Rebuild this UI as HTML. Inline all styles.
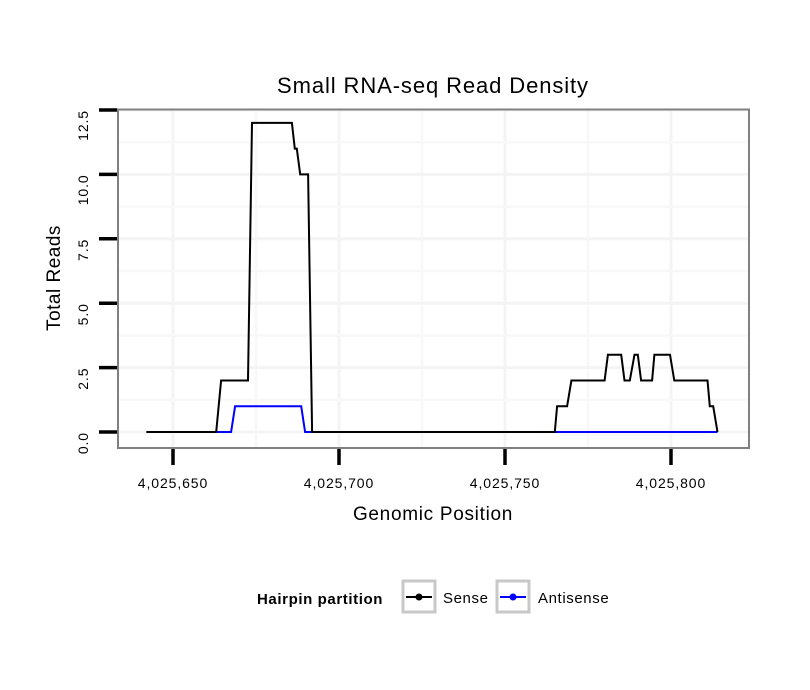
<!DOCTYPE html>
<html><head><meta charset="utf-8"><style>body{margin:0;background:#fff}svg{display:block;font-family:"Liberation Sans",sans-serif}</style></head>
<body>
<svg id="chart" width="810" height="690" viewBox="0 0 810 690">
<rect x="0" y="0" width="810" height="690" fill="#fff"/>
<text x="433" y="93" text-anchor="middle" font-size="22" letter-spacing="0.9">Small RNA-seq Read Density</text>
<g id="grid"></g>
<g id="series"></g>
<rect x="118" y="109.5" width="631" height="338.5" fill="none" stroke="#808080" stroke-width="2"/>
<g id="axes"></g>
<text x="433" y="520" text-anchor="middle" font-size="19" letter-spacing="0.7">Genomic Position</text>
<text transform="translate(60,278) rotate(-90)" text-anchor="middle" font-size="19" letter-spacing="0.5">Total Reads</text>
<g>
<text x="257" y="604" font-size="15" font-weight="bold" letter-spacing="0.6">Hairpin partition</text>
<g>
<rect x="403" y="581" width="32" height="31" fill="#fff" stroke="#c8c8c8" stroke-width="3"/>
<line x1="406" y1="597" x2="432" y2="597" stroke="#000" stroke-width="2"/><circle cx="419" cy="597" r="3.5" fill="#000"/>
<text x="443" y="603" font-size="15" letter-spacing="0.6">Sense</text></g>
<g>
<rect x="497" y="581" width="32" height="31" fill="#fff" stroke="#c8c8c8" stroke-width="3"/>
<line x1="500" y1="597" x2="526" y2="597" stroke="#00f" stroke-width="2"/><circle cx="513" cy="597" r="3.5" fill="#00f"/>
<text x="538" y="603" font-size="15" letter-spacing="0.6">Antisense</text></g>
</g>
</svg>
<script>
const xTicks=[4025650,4025700,4025750,4025800];
const xTickLabels=["4,025,650","4,025,700","4,025,750","4,025,800"];
const yTicks=[0,2.5,5,7.5,10,12.5];
const yTickLabels=["0.0","2.5","5.0","7.5","10.0","12.5"];
const sensePos=[4025642,4025663,4025664.5,4025672.6,4025673.8,4025685.8,4025686.7,4025687.3,4025688.3,4025690.7,4025691.9,4025765,4025765.7,4025768.7,4025770,4025780,4025781,4025785,4025786,4025787.6,4025789,4025790,4025791,4025794.3,4025795,4025799.7,4025801,4025811,4025811.7,4025812.7,4025814];
const senseVals=[0,0,2,2,12,12,11,11,10,10,0,0,1,1,2,2,3,3,2,2,3,3,2,2,3,3,2,2,1,1,0];
const antiPos=[4025642,4025667.5,4025668.7,4025688.6,4025689.8,4025814];
const antiVals=[0,0,1,1,0,0];
const NS="http://www.w3.org/2000/svg";
function X(v){return 173+(v-4025650)*3.32;}
function Y(v){return 432-v*25.76;}
function mk(tag,attrs,parent){const e=document.createElementNS(NS,tag);for(const k in attrs)e.setAttribute(k,attrs[k]);parent.appendChild(e);return e;}
const grid=document.getElementById('grid'),axes=document.getElementById('axes'),series=document.getElementById('series');
for(let i=0;i<xTicks.length;i++){
 const gx=X(xTicks[i]);
 const g=mk('line',{x1:gx,x2:gx,y1:110,y2:448,stroke:'#f4f4f4','stroke-width':3},grid);
 
 
 const mx=X(xTicks[i]+25);
 if(mx<749){const m=mk('line',{x1:mx,x2:mx,y1:110,y2:448,stroke:'#f8f8f8','stroke-width':2.5},grid);
 
 }
 const t=mk('line',{x1:gx,x2:gx,y1:449,y2:465,stroke:'#000','stroke-width':3.5},axes);
 
 
 const l=mk('text',{x:gx,y:488,'text-anchor':'middle','font-size':14,'letter-spacing':0.9},axes);
 l.textContent=xTickLabels[i];
 
 
}
for(let i=0;i<yTicks.length;i++){
 const gy=Y(yTicks[i]);
 const g=mk('line',{x1:119,x2:748,y1:gy,y2:gy,stroke:'#f4f4f4','stroke-width':3},grid);
 
 
 const my=Y(yTicks[i]+1.25);
 if(my>110){const m=mk('line',{x1:119,x2:748,y1:my,y2:my,stroke:'#f8f8f8','stroke-width':2.5},grid);
 
 }
 const t=mk('line',{x1:99,x2:117,y1:gy,y2:gy,stroke:'#000','stroke-width':3.5},axes);
 
 
 const l=mk('text',{transform:`translate(88,${gy}) rotate(-90)`,'text-anchor':'end','font-size':14,'letter-spacing':0.9},axes);
 l.textContent=yTickLabels[i];
 
 
}
function pts(p,v){return p.map((x,i)=>X(x).toFixed(1)+','+Y(v[i]).toFixed(1)).join(' ');}
const a=mk('polyline',{points:pts(antiPos,antiVals),fill:'none',stroke:'#00f','stroke-width':2},series);


const s=mk('polyline',{points:pts(sensePos,senseVals),fill:'none',stroke:'#000','stroke-width':2},series);


</script>
</body></html>
